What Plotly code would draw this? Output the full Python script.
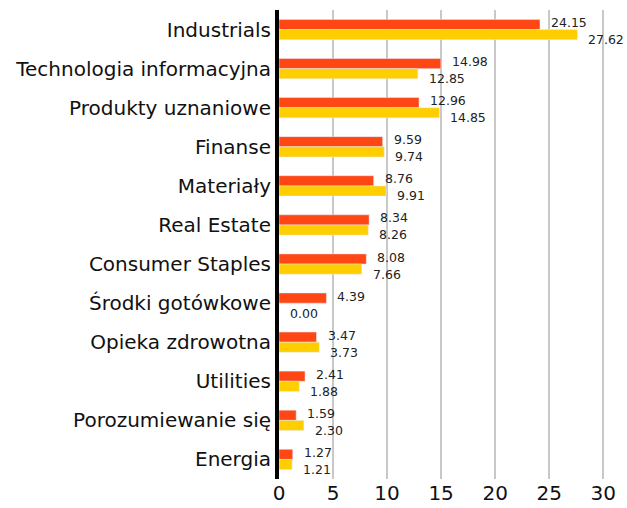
import plotly.graph_objects as go

categories = ["Industrials", "Technologia informacyjna", "Produkty uznaniowe", "Finanse",
              "Materiały", "Real Estate", "Consumer Staples", "Środki gotówkowe",
              "Opieka zdrowotna", "Utilities", "Porozumiewanie się", "Energia"]
fund = [24.15, 14.98, 12.96, 9.59, 8.76, 8.34, 8.08, 4.39, 3.47, 2.41, 1.59, 1.27]
benchmark = [27.62, 12.85, 14.85, 9.74, 9.91, 8.26, 7.66, 0.00, 3.73, 1.88, 2.30, 1.21]
tick_vals = [0, 5, 10, 15, 20, 25, 30]

ORANGE = "#FF4716"
YELLOW = "#FFCE00"
FONT = "DejaVu Sans"

fig = go.Figure()
fig.add_trace(go.Bar(y=categories, x=fund, orientation="h", marker_color=ORANGE,
                     name="Fund", hoverinfo="x+y"))
fig.add_trace(go.Bar(y=categories, x=benchmark, orientation="h", marker_color=YELLOW,
                     name="Benchmark", hoverinfo="x+y"))

annotations = []
for c, v in zip(categories, fund):
    annotations.append(dict(x=v, y=c, text=f"{v:.2f}", xanchor="left", yanchor="middle",
                            xshift=9, yshift=7, showarrow=False,
                            font=dict(family=FONT, size=12.5, color="#222")))
for c, v in zip(categories, benchmark):
    annotations.append(dict(x=v, y=c, text=f"{v:.2f}", xanchor="left", yanchor="middle",
                            xshift=9, yshift=-10, showarrow=False,
                            font=dict(family=FONT, size=12.5, color="#222")))

fig.update_layout(
    width=627, height=508,
    margin=dict(l=279, r=13, t=10, b=29),
    barmode="group", bargap=0.48, bargroupgap=0,
    showlegend=False,
    plot_bgcolor="white", paper_bgcolor="white",
    annotations=annotations,
    font=dict(family=FONT, color="#111"),
)
fig.update_xaxes(range=[0, 31.0], tickvals=tick_vals, showgrid=True, gridcolor="#c8c8c8",
                 gridwidth=2, zeroline=False, showline=False, automargin=False,
                 tickfont=dict(size=20, family=FONT, color="#111"), ticks="")
fig.update_yaxes(categoryorder="array", categoryarray=categories, autorange="reversed",
                 showgrid=False, showline=True, linecolor="black", linewidth=4,
                 automargin=False,
                 tickfont=dict(size=20, family=FONT, color="#111"), ticks="")

fig.write_html("out.html", config={"displayModeBar": False},
               post_script="document.body.style.margin='0';")
